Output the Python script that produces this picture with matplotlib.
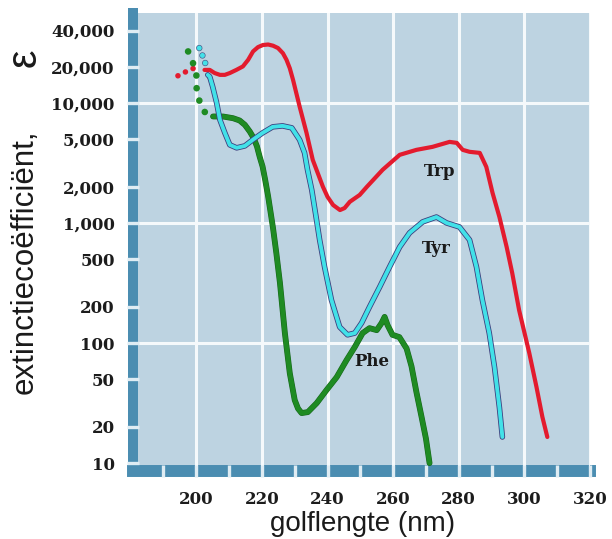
import numpy as np
import matplotlib.pyplot as plt
import matplotlib.patheffects as pe
from matplotlib.ticker import FixedLocator, FuncFormatter

# golflengte (nm) en extinctiecoefficient
trp_dot_x = [194.4, 196.0, 197.6, 199.2, 201.0]
trp_dot_y = [16800, 17700, 18600, 19400, 19000]
trp_x = [202.5, 204.1, 205.6, 207.2, 208.7, 210.2, 212.2, 214.2, 215.8, 217.3, 218.8,
         220.3, 221.9, 223.4, 224.9, 226.4, 227.5, 228.5, 229.5, 230.5, 231.5,
         233.6, 235.5, 238.6, 240.0, 241.7, 243.8, 245.2, 246.8, 249.8, 252.0, 256.8,
         262.0, 267.1, 272.0, 277.2, 279.4, 281.2, 283.3, 286.4, 288.4, 290.3, 292.4,
         294.6, 296.3, 298.4, 301.5, 303.7, 305.5, 307.0]
trp_y = [18800, 18800, 17700, 17100, 17100, 17700, 18800, 20100, 22800, 26800, 29100,
         30300, 30600, 29900, 28600, 25900, 22800, 19400, 15500, 12000, 9300,
         5620, 3350, 2000, 1650, 1410, 1280, 1330, 1500, 1710, 2000, 2770,
         3690, 4060, 4300, 4730, 4640, 4060, 3910, 3830, 2930, 1780, 1120,
         631, 383, 188, 82.5, 43, 24.2, 16.5]

tyr_dot_x = [200.9, 201.6, 202.6, 203.1]
tyr_dot_y = [28600, 25900, 22100, 19500]
tyr_x = [203.5, 204.1, 205.0, 206.2, 207.2, 208.7, 210.2, 212.3, 214.8, 217.2, 220.2,
         223.3, 226.3, 229.1, 231.5, 233.0, 233.9, 235.2, 236.4, 237.6, 239.1, 241.2,
         243.7, 246.1, 248.3, 250.4, 252.8, 255.9, 258.9, 262.0, 265.0, 269.0, 273.2,
         276.3, 280.2, 283.3, 285.4, 287.2, 289.3, 290.9, 292.4, 293.3]
tyr_y = [17100, 16500, 13600, 10000, 7220, 5620, 4470, 4220, 4380, 4920, 5620,
         6310, 6430, 6190, 4920, 3830, 2770, 1880, 1170, 722, 430, 228,
         136, 117, 121, 147, 200, 293, 430, 631, 826, 1020, 1120,
         1000, 926, 722, 430, 228, 121, 63, 29, 16.5]

phe_dot_x = [197.5, 199.0, 200.1, 200.1, 201.1, 202.1, 203.6]
phe_dot_y = [26800, 21400, 16600, 12800, 10000, 8750, 7700]
phe_x = [205.1, 208.2, 211.2, 213.2, 214.8, 216.3, 217.5, 218.5, 219.3, 220.2, 221.0,
         221.9, 222.7, 223.4, 224.4, 225.5, 227.0, 228.5, 230.0, 231.0, 232.1, 234.0,
         236.7, 239.7, 242.8, 245.8, 248.3, 250.7, 252.8, 255.0, 256.5, 257.4, 258.3,
         259.8, 261.9, 264.1, 265.6, 267.1, 268.7, 270.0, 271.1]
phe_y = [7700, 7690, 7450, 7130, 6560, 5770, 5080, 4330, 3570, 2950, 2280,
         1660, 1200, 900, 560, 316, 121, 56, 33.5, 28.5, 26.1, 26.6,
         31.6, 40.6, 52, 72, 92.6, 121, 133, 128, 147, 165, 141,
         117, 112, 90, 64, 39, 24, 16, 10]

y_decades = [100, 1000, 10000]
y_other = [10, 20, 50, 200, 500, 2000, 5000, 20000, 40000]
x_major = [200, 220, 240, 260, 280, 300, 320]
x_minor = [190, 210, 230, 250, 270, 290, 310]

# plaats van de namen bij de curves
curve_names = {"Trp": (274.1, 2660), "Tyr": (273.2, 617), "Phe": (253.4, 69.5)}

bg = '#bdd3e1'
band = '#4b8db1'
gap = '#dfecf3'
red = '#e31b2e'
cyan = '#42e1e8'
green = '#1f8b23'

fig = plt.figure(figsize=(6.12, 5.39), dpi=100)
ax = fig.add_axes([0.2173, 0.1262, 0.7467, 0.8497])
ax.set_facecolor(bg)
ax.set_yscale('log')
ax.set_xlim(180.7, 320)
ax.set_ylim(8.6, 56000)

for side in ['top', 'right']:
    ax.spines[side].set_visible(False)
ax.spines['left'].set_color(band)
ax.spines['left'].set_linewidth(7.2)
ax.spines['bottom'].set_color(band)
ax.spines['bottom'].set_linewidth(8.6)
# ticks en rasterlijnen boven de dikke assen, maar onder de curves
ax.xaxis.set_zorder(2.8)
ax.yaxis.set_zorder(2.8)

ax.xaxis.set_major_locator(FixedLocator(x_major))
ax.xaxis.set_minor_locator(FixedLocator(x_minor))
ax.yaxis.set_major_locator(FixedLocator(y_decades))
ax.yaxis.set_minor_locator(FixedLocator(y_other))
fmt = FuncFormatter(lambda v, p: f"{int(round(v)):,}")
ax.yaxis.set_major_formatter(fmt)
ax.yaxis.set_minor_formatter(fmt)
ax.xaxis.set_major_formatter(FuncFormatter(lambda v, p: f"{int(v)}"))

ax.grid(True, which='major', color='#f5f9fb', linewidth=2.2)

ax.tick_params(axis='x', which='both', direction='inout', length=9.0, width=2.4,
               color=gap, pad=10)
ax.tick_params(axis='y', which='both', direction='inout', length=8.0, width=2.4,
               color=gap, pad=9.2)
for lab in ax.get_xticklabels() + ax.get_yticklabels(which='both'):
    lab.set_fontfamily('DejaVu Serif')
    lab.set_fontweight('bold')
    lab.set_fontsize(12)
    lab.set_color('#1c1c1c')

# stippellijnen bij korte golflengte
ax.plot(trp_dot_x, trp_dot_y, color=red, lw=4.0, linestyle=(0, (0.01, 1.5)),
        dash_capstyle='round', zorder=5)
ax.plot(phe_dot_x, phe_dot_y, color=green, lw=4.8, linestyle=(0, (0.01, 1.9)),
        dash_capstyle='round', zorder=5)
ax.plot(tyr_dot_x, tyr_dot_y, color=cyan, lw=3.6, linestyle=(0, (0.01, 1.6)),
        dash_capstyle='round', zorder=5,
        path_effects=[pe.Stroke(linewidth=4.6, foreground='#4a5a8a'), pe.Normal()])

ax.plot(phe_x, phe_y, color=green, lw=3.4, zorder=6, solid_joinstyle='round',
        solid_capstyle='round',
        path_effects=[pe.Stroke(linewidth=4.2, foreground='#17661b'), pe.Normal()])
ax.plot(tyr_x, tyr_y, color=cyan, lw=2.8, zorder=7, solid_joinstyle='round',
        solid_capstyle='round',
        path_effects=[pe.Stroke(linewidth=4.0, foreground='#3c3f7e'), pe.Normal()])
ax.plot(trp_x, trp_y, color=red, lw=3.0, zorder=8, solid_joinstyle='round',
        solid_capstyle='round')

for name, (tx, ty) in curve_names.items():
    ax.text(tx, ty, name, ha='center', va='center', fontsize=12,
            family='DejaVu Serif', fontweight='bold', color='#1a1a1a', zorder=9)

fig.text(363 / 612, 1 - 524 / 539, "golflengte (nm)", ha='center', va='center',
         fontsize=20, family='Liberation Sans', color='#1a1a1a')
fig.text(25 / 612, 1 - 262 / 539, "extinctiecoëfficiënt,", rotation=90,
         ha='center', va='center', fontsize=22.5, family='Liberation Sans',
         color='#1a1a1a')
fig.text(25 / 612, 1 - 58 / 539, "ε", rotation=90, ha='center', va='center',
         fontsize=30, family='Liberation Sans', color='#1a1a1a')

fig.savefig('out.png', dpi=100, facecolor='white')
